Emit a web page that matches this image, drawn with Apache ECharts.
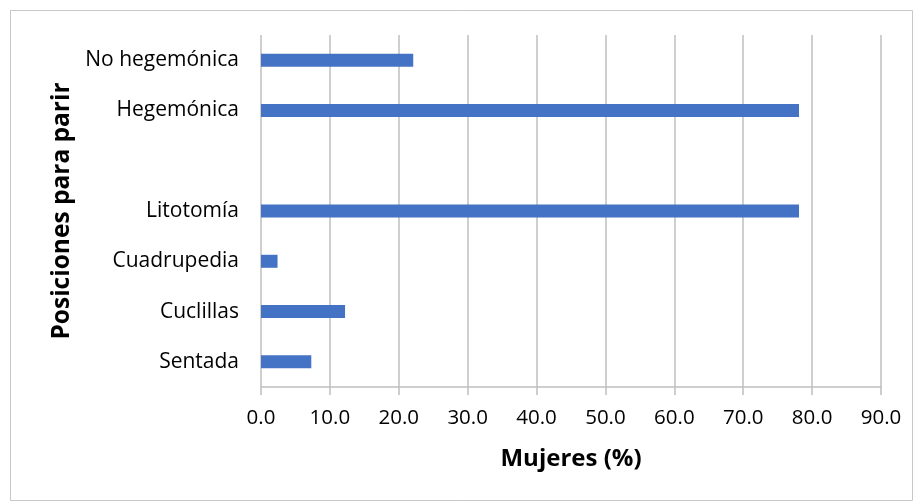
<!DOCTYPE html>
<html><head><meta charset="utf-8">
<script src="https://cdn.jsdelivr.net/npm/echarts@6/dist/echarts.min.js"></script>
<style>html,body{margin:0;padding:0;background:#fff}#c{width:917px;height:502px}</style>
</head><body><div id="c"></div>
<script>
const categories = ['Sentada', 'Cuclillas', 'Cuadrupedia', 'Litotomía', '', 'Hegemónica', 'No hegemónica'];
const values = [7.3, 12.2, 2.4, 78.1, null, 78.1, 22.1];
const xTicks = {min: 0, max: 90, interval: 10};
const xTitle = 'Mujeres (%)';
const yTitle = 'Posiciones para parir';

const font = '"Open Sans", "Noto Sans", sans-serif';
const chart = echarts.init(document.getElementById('c'), null, {renderer: 'canvas'});
chart.setOption({
  animation: false,
  backgroundColor: '#fff',
  textStyle: {fontFamily: font},
  graphic: [{
    type: 'rect', left: 8, top: 8,
    shape: {width: 902, height: 490},
    style: {fill: 'none', stroke: '#c8c8c8', lineWidth: 1}
  }],
  grid: {left: 261, right: 36, top: 35, bottom: 115, containLabel: false},
  xAxis: {
    type: 'value', min: xTicks.min, max: xTicks.max, interval: xTicks.interval,
    name: xTitle, nameLocation: 'middle', nameGap: 60,
    nameTextStyle: {fontFamily: font, fontWeight: 'bold', fontSize: 24, color: '#000'},
    axisLine: {show: true, lineStyle: {color: '#bfbfbf', width: 1.5}},
    axisTick: {show: true, length: 8, lineStyle: {color: '#bfbfbf', width: 1.5}},
    axisLabel: {fontFamily: font, fontSize: 20.5, color: '#000', margin: 21,
      formatter: v => v.toFixed(1)},
    splitLine: {show: true, lineStyle: {color: '#bfbfbf', width: 1.5}}
  },
  yAxis: {
    type: 'category', data: categories,
    name: yTitle, nameLocation: 'middle', nameGap: 186, nameRotate: 90,
    nameTextStyle: {fontFamily: font, fontWeight: 'bold', fontSize: 24.5, color: '#000'},
    axisLine: {show: false}, axisTick: {show: false},
    axisLabel: {fontFamily: font, fontSize: 21, color: '#000', margin: 22},
    splitLine: {show: false}
  },
  series: [{
    type: 'bar', data: values, barWidth: 13,
    itemStyle: {color: '#4472C4'}
  }]
});
</script></body></html>
